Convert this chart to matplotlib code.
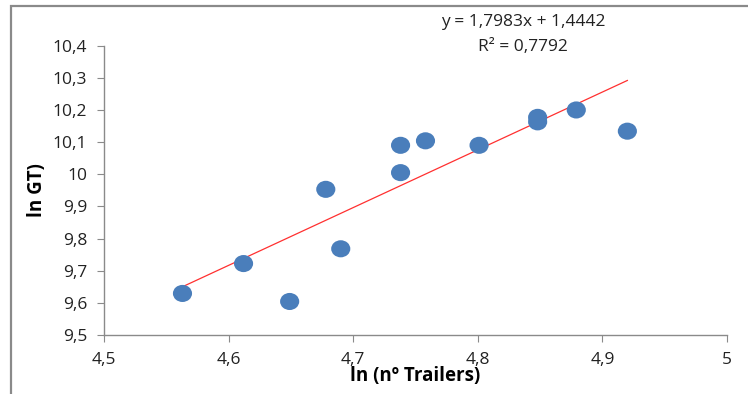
import numpy as np
import matplotlib.pyplot as plt
from matplotlib.patches import Rectangle
from matplotlib.path import Path
from matplotlib.ticker import FuncFormatter

# ============================
# Data
# ============================
ln_trailers = [4.563, 4.612, 4.649, 4.678, 4.690, 4.738, 4.738, 4.758,
               4.801, 4.848, 4.848, 4.879, 4.920]
ln_gt = [9.629, 9.722, 9.604, 9.953, 9.768, 10.090, 10.005, 10.104,
         10.090, 10.177, 10.163, 10.200, 10.134]

slope = 1.7983
intercept = 1.4442
r2 = 0.7792

x_ticks = [4.5, 4.6, 4.7, 4.8, 4.9, 5.0]
y_ticks = [9.5, 9.6, 9.7, 9.8, 9.9, 10.0, 10.1, 10.2, 10.3, 10.4]

# ============================
# Plot
# ============================
plt.rcParams["font.family"] = ["Open Sans", "DejaVu Sans"]
fig = plt.figure(figsize=(7.48, 3.94), dpi=100)
ax = fig.add_axes([0.139, 0.150, 0.833, 0.734])

# outer chart frame (only top and left visible)
fig.patches.append(Rectangle((11 / 748, -0.1), 1.2, 1 - 6 / 394 + 0.1,
                             transform=fig.transFigure, fill=False,
                             edgecolor="#8a8a8a", linewidth=1.6))

# slightly wide ellipse like the Excel markers
circ = Path.unit_circle()
ellipse = Path(circ.vertices * np.array([1.12, 1.0]), circ.codes)

ax.scatter(ln_trailers, ln_gt, s=190, marker=ellipse, color="#4a7ebb",
           zorder=3, edgecolors="none")

xs = np.array([min(ln_trailers), max(ln_trailers)])
ax.plot(xs, slope * xs + intercept, color="#ff3030", linewidth=0.9, zorder=2)

ax.set_xlim(4.5, 5.0)
ax.set_ylim(9.5, 10.4)
ax.set_xticks(x_ticks)
ax.set_yticks(y_ticks)

def comma_fmt(v, pos):
    s = f"{v:.1f}".rstrip("0").rstrip(".")
    return s.replace(".", ",")

ax.xaxis.set_major_formatter(FuncFormatter(comma_fmt))
ax.yaxis.set_major_formatter(FuncFormatter(comma_fmt))

for side in ["top", "right"]:
    ax.spines[side].set_visible(False)
for side in ["left", "bottom"]:
    ax.spines[side].set_color("#8a8a8a")
    ax.spines[side].set_linewidth(1.0)
ax.tick_params(axis="both", direction="out", length=5, color="#8a8a8a",
               labelsize=12.5, labelcolor="#222222", pad=7)

ax.set_xlabel("ln (nº Trailers)", fontsize=13.5, fontweight="bold",
              labelpad=-1)
ax.set_ylabel("ln GT)", fontsize=13.5, fontweight="bold", labelpad=4)

eq_text = f"y = {slope:.4f}x + {intercept:.4f}".replace(".", ",")
r2_text = f"R² = {r2:.4f}".replace(".", ",")
fig.text(523 / 748, 1 - 22 / 394, eq_text, ha="center", va="center",
         fontsize=12.5, color="#222222")
fig.text(523 / 748, 1 - 47 / 394, r2_text, ha="center", va="center",
         fontsize=12.5, color="#222222")

fig.savefig("out.png", dpi=100)
